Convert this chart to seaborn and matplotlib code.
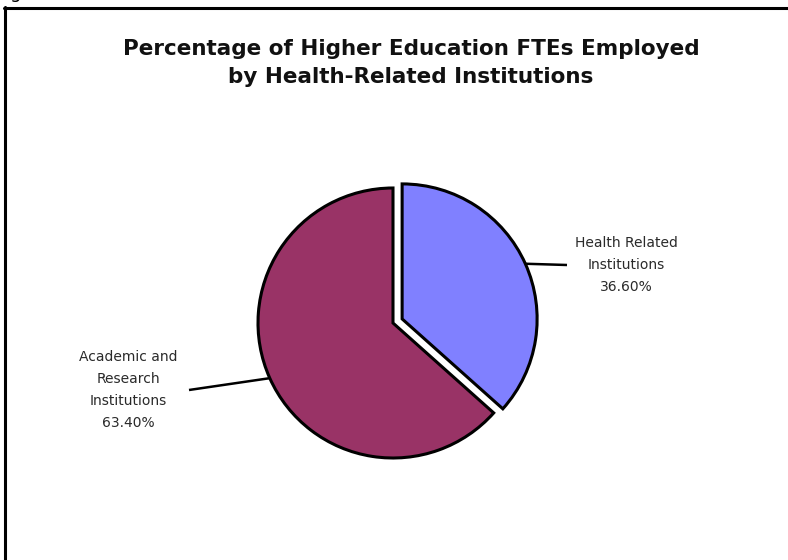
import matplotlib
matplotlib.use("Agg")
import numpy as np
import matplotlib.pyplot as plt
from matplotlib.lines import Line2D
import seaborn as sns

# Data
categories = ["Health Related\nInstitutions", "Academic and\nResearch\nInstitutions"]
shares = [36.60, 63.40]
colors = ["#8080FF", "#993366"]
explode = [10.0, 0.0]   # offset in pixels (data units)

sns.set_theme(style="white")
plt.rcParams["font.family"] = ["DejaVu Sans"]

W, H = 788, 560
fig = plt.figure(figsize=(W / 100, H / 100), dpi=100)
ax = fig.add_axes([0, 0, 1, 1])
ax.set_xlim(0, W)
ax.set_ylim(H, 0)
ax.axis("off")

# y axis is inverted: start at the top (-90 deg in data) and sweep clockwise on screen
cx, cy, r = 393, 323, 135
wedges, _ = ax.pie(
    shares,
    colors=colors,
    explode=explode,
    startangle=-90,
    counterclock=True,
    center=(cx, cy),
    radius=r,
    wedgeprops=dict(edgecolor="black", linewidth=2.2),
)
ax.set_xlim(0, W)
ax.set_ylim(H, 0)
ax.set_aspect("equal")

# Labels with leader lines from the middle of each wedge's arc
label_pos = [(626, 265, 567), (128, 390, 189)]
for wedge, cat, val, (tx, ty, lx) in zip(wedges, categories, shares, label_pos):
    mid = np.deg2rad((wedge.theta1 + wedge.theta2) / 2)
    wx, wy = wedge.center
    ex = wx + r * np.cos(mid)
    ey = wy + r * np.sin(mid)
    ax.plot([ex, lx], [ey, ty], color="black", lw=1.8, solid_capstyle="butt")
    ax.text(tx, ty, f"{cat}\n{val:.2f}%", ha="center", va="center",
            fontsize=10, color="#2a2a2a", linespacing=1.75)

# Title
ax.text(W / 2 + 17, 63, "Percentage of Higher Education FTEs Employed\nby Health-Related Institutions",
        ha="center", va="center", fontsize=15.5, fontweight="bold",
        color="#111111", linespacing=1.55)

# Chart area frame (top and left edges)
fig.add_artist(Line2D([4.5 / W, 4.5 / W], [0, 1 - 7 / H], transform=fig.transFigure,
                      color="black", lw=2.2))
fig.add_artist(Line2D([3.5 / W, 1], [1 - 8 / H, 1 - 8 / H], transform=fig.transFigure,
                      color="black", lw=2.2))

# Caption above the chart area; only its descender falls on the canvas
fig.text(-4 / W, 1 + 2 / H, "Fig", fontsize=13, color="black", ha="left", va="baseline")

fig.savefig("out.png", dpi=100, facecolor="white")
